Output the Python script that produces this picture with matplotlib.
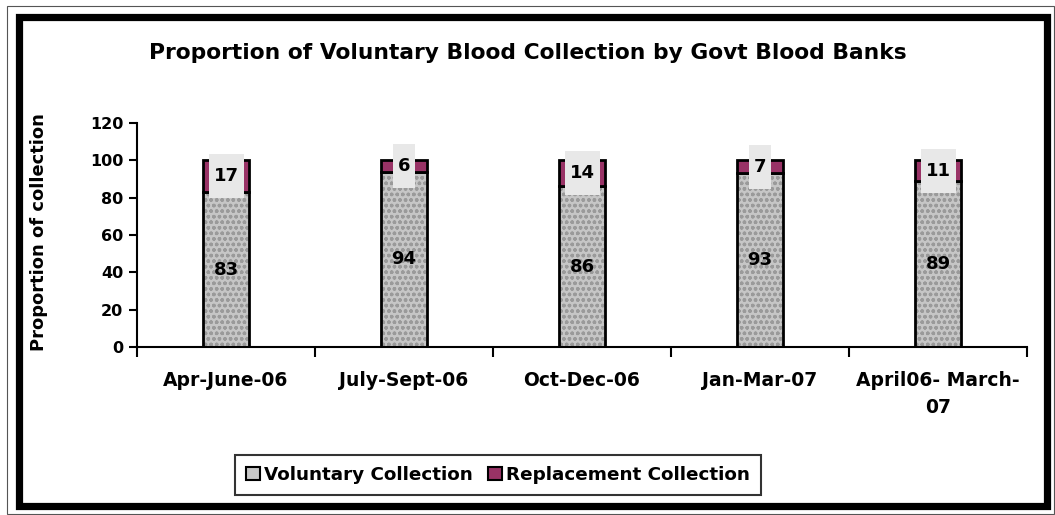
import matplotlib
matplotlib.use("Agg")
import matplotlib.pyplot as plt
from matplotlib.patches import Rectangle, Patch
import numpy as np

categories = ["Apr-June-06", "July-Sept-06", "Oct-Dec-06", "Jan-Mar-07", "April06- March-\n07"]
voluntary = [83, 94, 86, 93, 89]
replacement = [17, 6, 14, 7, 11]
title = "Proportion of Voluntary Blood Collection by Govt Blood Banks"
ylabel = "Proportion of collection"
yticks = [0, 20, 40, 60, 80, 100, 120]

plt.rcParams['font.family'] = ['DejaVu Sans']
plt.rcParams['font.weight'] = 'bold'

W, H = 1055, 515
fig = plt.figure(figsize=(W / 100, H / 100), dpi=100)

def fx(px):
    return px / W

def fy(py):
    return 1 - py / H

# outer thin border and thick inner frame
fig.add_artist(Rectangle((fx(7), fy(514)), fx(1054) - fx(7), fy(6) - fy(514),
                         transform=fig.transFigure, fill=False, lw=0.8, edgecolor='#555555'))
fig.add_artist(Rectangle((fx(19), fy(505.5)), fx(1046.5) - fx(19), fy(17) - fy(505.5),
                         transform=fig.transFigure, fill=False, lw=5.2, edgecolor='black'))

ax_l, ax_r, ax_b, ax_t = 137, 1027, 347, 123
ax = fig.add_axes([fx(ax_l), fy(ax_b), fx(ax_r) - fx(ax_l), fy(ax_t) - fy(ax_b)])
n = len(categories)
x = np.arange(n) + 0.5
bw = 0.26
xpx = n / (ax_r - ax_l)      # data units per pixel (x)
ypx = 120 / (ax_b - ax_t)    # data units per pixel (y)

# voluntary: textured grey
ax.bar(x, voluntary, bw, color='#c6c6c6', hatch='ooo', edgecolor='#9a9a9a', lw=0, zorder=2)
ax.bar(x, voluntary, bw, fill=False, edgecolor='black', lw=2, zorder=3)
ax.bar(x, replacement, bw, bottom=voluntary, color='#993366', edgecolor='black', lw=2, zorder=3)

for xi, v, r in zip(x, voluntary, replacement):
    ax.text(xi, v / 2, str(v), ha='center', va='center', fontsize=13, fontweight='bold', zorder=5)
    ymid = v + r / 2
    s = str(r)
    bwid = (12.5 * len(s) + 10) * xpx
    bhei = 44 * ypx
    ax.add_patch(Rectangle((xi - bwid / 2, ymid - bhei / 2), bwid, bhei, facecolor='#e8e8e8',
                           edgecolor='none', zorder=4, clip_on=False))
    ax.text(xi, ymid, s, ha='center', va='center', fontsize=13, fontweight='bold', zorder=5)

ax.set_xlim(0, n)
ax.set_ylim(0, 120)
ax.set_yticks(yticks)
ax.set_yticklabels([str(t) for t in yticks], fontsize=11.5, fontweight='bold')
ax.set_xticks(np.arange(n + 1))
ax.set_xticklabels([])
ax.set_xticks(x, minor=True)
ax.set_xticklabels(categories, minor=True, fontsize=13.5, fontweight='bold', linespacing=1.55)
ax.tick_params(axis='x', which='minor', length=0, pad=17)
ax.tick_params(axis='x', which='major', length=7, width=1.5, direction='out')
ax.tick_params(axis='y', length=6, width=1.5, direction='out', pad=4)
for s in ['top', 'right']:
    ax.spines[s].set_visible(False)
for s in ['left', 'bottom']:
    ax.spines[s].set_linewidth(1.5)
ax.set_ylabel(ylabel, fontsize=12.9, fontweight='bold')
ax.yaxis.set_label_coords((48 - ax_l) / (ax_r - ax_l), (ax_b - 232) / (ax_b - ax_t))

fig.text(fx(528), fy(53), title, ha='center', va='center', fontsize=15.7, fontweight='bold')

handles = [Patch(facecolor='#c8c8c8', edgecolor='black', lw=1.5, label='Voluntary Collection'),
           Patch(facecolor='#993366', edgecolor='black', lw=1.5, label='Replacement Collection')]
leg = fig.legend(handles=handles, loc='center', bbox_to_anchor=(fx(498), fy(475)), ncol=2,
                 frameon=True, fancybox=False, edgecolor='black',
                 handlelength=0.75, handleheight=0.75, handletextpad=0.25, columnspacing=0.8,
                 borderpad=0.6, borderaxespad=0, prop={'weight': 'bold', 'size': 13.2})
leg.get_frame().set_linewidth(1.5)

fig.savefig('out.png', dpi=100)
